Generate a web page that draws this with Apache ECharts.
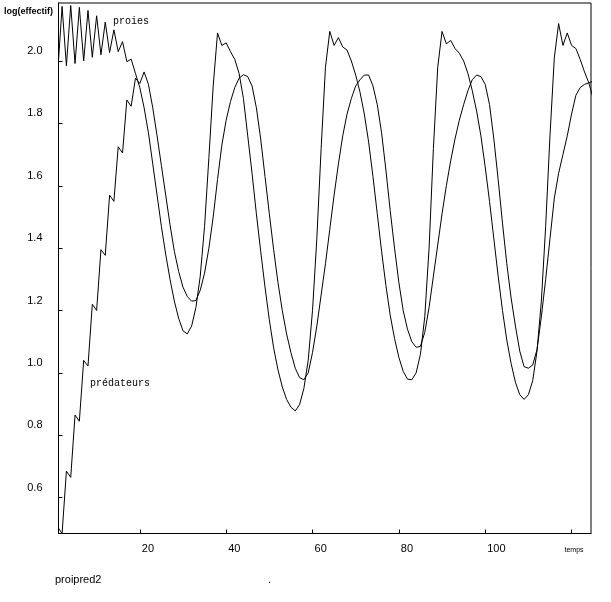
<!DOCTYPE html>
<html><head><meta charset="utf-8">
<script src="https://cdn.jsdelivr.net/npm/echarts@6/dist/echarts.min.js"></script>
<style>html,body{margin:0;padding:0;background:#fff;}#c{width:611px;height:602px;}</style>
</head><body><div id="c"></div>
<script>
// time steps start at t = 1, one value per step
const tStart = 1;
const proies = [
1.965,2.175,1.985,2.178,1.992,2.172,2.000,2.162,2.012,2.145,
2.020,2.125,2.027,2.100,2.030,2.062,1.998,2.006,1.960,1.915,
1.850,1.770,1.670,1.570,1.470,1.380,1.300,1.230,1.175,1.135,
1.125,1.150,1.210,1.310,1.470,1.690,1.920,2.090,2.050,2.058,
2.030,2.005,1.960,1.880,1.760,1.640,1.510,1.390,1.275,1.170,
1.080,1.010,0.955,0.915,0.890,0.878,0.898,0.950,1.040,1.200,
1.430,1.720,1.980,2.095,2.050,2.075,2.045,2.035,2.000,1.955,
1.900,1.830,1.740,1.630,1.510,1.390,1.280,1.185,1.110,1.050,
1.005,0.980,0.978,1.000,1.060,1.180,1.400,1.720,1.980,2.095,
2.055,2.066,2.040,2.025,2.000,1.960,1.905,1.840,1.760,1.660,
1.550,1.430,1.310,1.200,1.105,1.030,0.970,0.930,0.915,0.930,
0.975,1.070,1.230,1.470,1.760,2.010,2.120,2.050,2.090,2.050,
2.040,2.005,1.965,1.930,1.880
];
const predateurs = [
0.505,0.485,0.685,0.665,0.865,0.845,1.040,1.022,1.220,1.200,
1.395,1.377,1.570,1.550,1.725,1.705,1.875,1.855,1.945,1.928,
1.965,1.925,1.850,1.760,1.665,1.570,1.475,1.390,1.325,1.275,
1.245,1.230,1.232,1.265,1.320,1.400,1.500,1.620,1.730,1.810,
1.870,1.915,1.945,1.956,1.950,1.920,1.850,1.750,1.630,1.510,
1.395,1.290,1.200,1.125,1.065,1.015,0.985,0.978,1.000,1.065,
1.150,1.250,1.350,1.460,1.570,1.670,1.760,1.830,1.880,1.920,
1.940,1.955,1.955,1.920,1.860,1.770,1.650,1.520,1.400,1.290,
1.200,1.140,1.100,1.082,1.085,1.130,1.210,1.310,1.410,1.510,
1.600,1.680,1.750,1.810,1.860,1.905,1.940,1.955,1.950,1.925,
1.860,1.750,1.620,1.480,1.350,1.240,1.150,1.070,1.020,1.015,
1.025,1.075,1.180,1.300,1.430,1.560,1.640,1.700,1.760,1.830,
1.890,1.915,1.925,1.930,1.935
];
const xTicks = [20,40,60,80,100,120];
const xLabels = [20,40,60,80,100];
const yTicks = [0.6,0.8,1.0,1.2,1.4,1.6,1.8,2.0];

const toPairs = arr => arr.map((v,i) => [tStart + i, v]);
const chart = echarts.init(document.getElementById('c'), null, {renderer:'canvas'});
const black = '#000';
const txt = (text, x, y, font, align) => ({
  type:'text', x:x, y:y, silent:true,
  style:{text:text, font:font, fill:black, align:align||'left', verticalAlign:'middle'}
});
chart.setOption({
  animation:false,
  backgroundColor:'#fff',
  grid:{left:58.5, top:3, right:20, bottom:68.5, show:true, borderColor:black, borderWidth:1, backgroundColor:'transparent'},
  xAxis:{
    type:'value', min:1.17, max:124.5,
    axisLine:{show:true, lineStyle:{color:black, width:1}},
    axisTick:{show:true, inside:true, length:4, customValues:xTicks, lineStyle:{color:black}},
    axisLabel:{customValues:xLabels, color:black, fontFamily:'Liberation Sans', fontSize:11, align:'left', margin:10, padding:[0,0,0,2]},
    splitLine:{show:false}
  },
  yAxis:{
    type:'value', min:0.485, max:2.186,
    axisLine:{show:true, lineStyle:{color:black, width:1}},
    axisTick:{show:true, inside:true, length:4, customValues:yTicks, lineStyle:{color:black}},
    axisLabel:{customValues:yTicks, color:black, fontFamily:'Liberation Sans', fontSize:11, margin:16,
      verticalAlign:'bottom', lineHeight:20,
      formatter: v => Number(v).toFixed(1)},
    splitLine:{show:false}
  },
  series:[
    {name:'proies', type:'line', data:toPairs(proies), showSymbol:false, clip:true, lineStyle:{color:black, width:1}},
    {name:'prédateurs', type:'line', data:toPairs(predateurs), showSymbol:false, clip:true, lineStyle:{color:black, width:1}}
  ],
  graphic:[
    txt('log(effectif)', 4, 12, 'bold 9px "Liberation Sans"'),
    txt('proies', 113, 21, '10px "Liberation Mono"'),
    txt('prédateurs', 90, 383, '10px "Liberation Mono"'),
    txt('temps', 574, 550, '7px "Liberation Sans"', 'center'),
    txt('proipred2', 55, 580, '11px "Liberation Sans"'),
    txt('.', 268, 580, '11px "Liberation Sans"')
  ]
});
</script></body></html>
